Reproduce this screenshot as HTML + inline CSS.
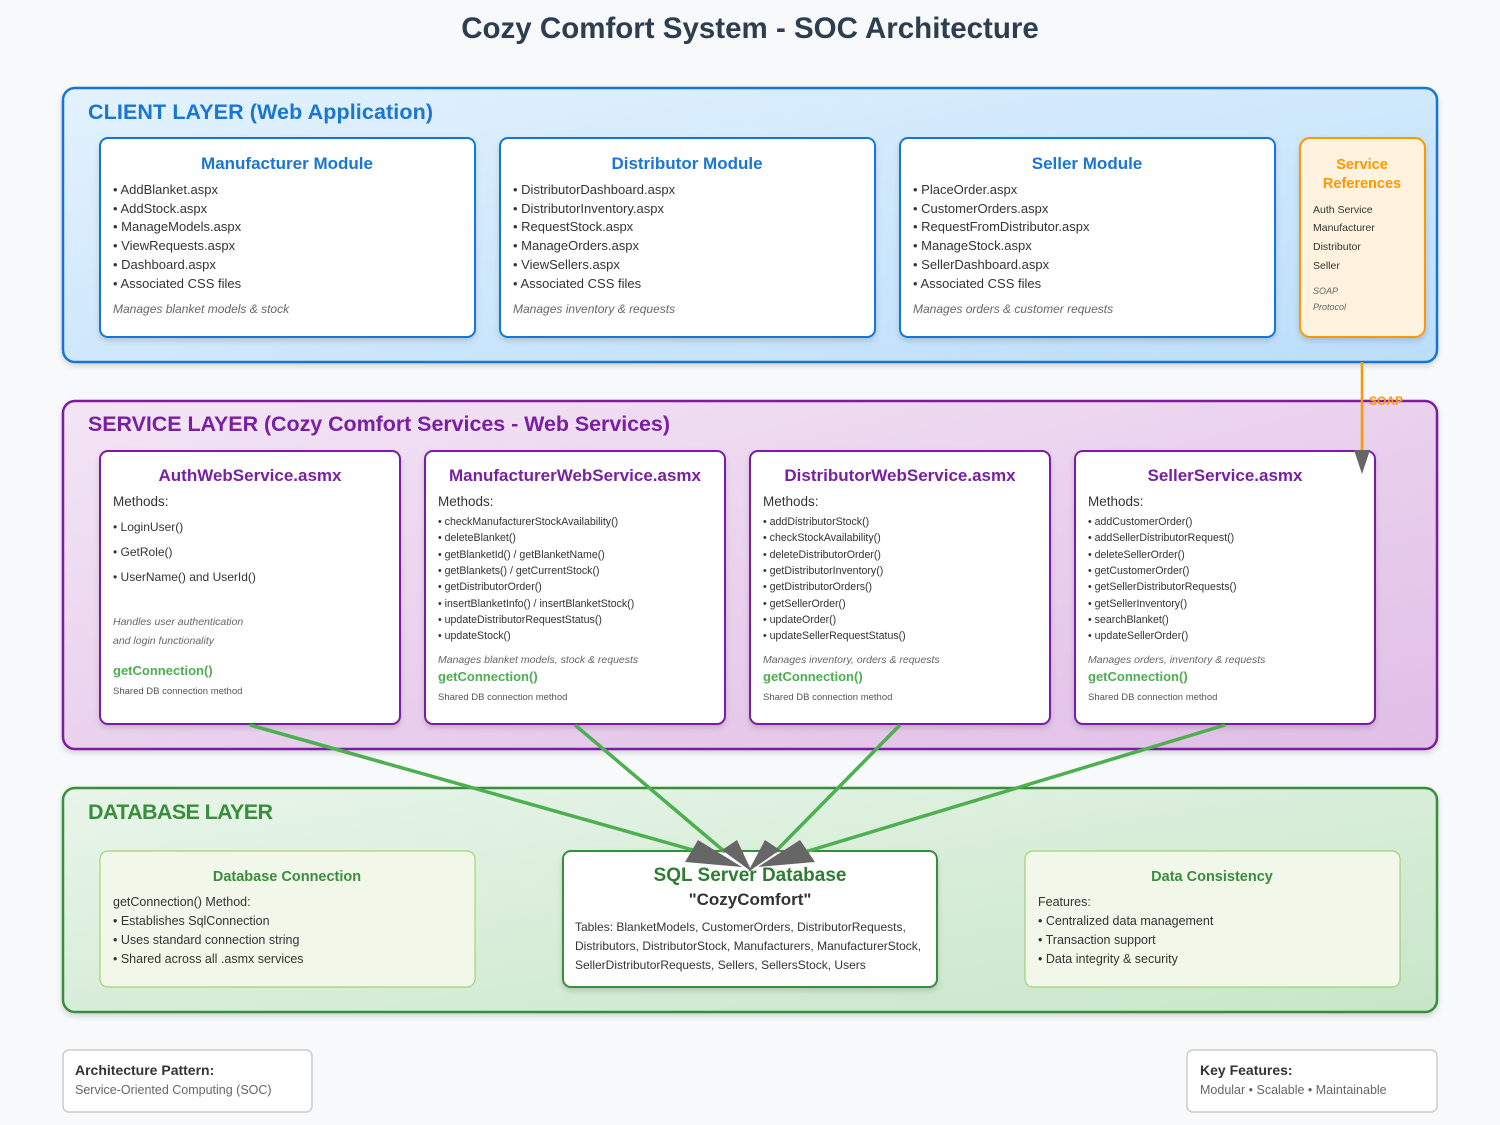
<!DOCTYPE html>
<html><head><meta charset="utf-8"><style>
html,body{margin:0;padding:0;background:#f8f9fa;}
svg{display:block;font-family:"Liberation Sans",sans-serif;}
</style></head><body>
<svg width="1500" height="1125" viewBox="0 0 1500 1125" xmlns="http://www.w3.org/2000/svg">
<defs>
<linearGradient id="gc" x1="0" y1="0" x2="1" y2="1"><stop offset="0" stop-color="#e3f2fd"/><stop offset="1" stop-color="#bbdefb"/></linearGradient>
<linearGradient id="gs" x1="0" y1="0" x2="1" y2="1"><stop offset="0" stop-color="#f3e5f5"/><stop offset="1" stop-color="#e1bee7"/></linearGradient>
<linearGradient id="gd" x1="0" y1="0" x2="1" y2="1"><stop offset="0" stop-color="#e8f5e9"/><stop offset="1" stop-color="#c8e6c9"/></linearGradient>
<filter id="sh" x="-10%" y="-10%" width="120%" height="130%"><feDropShadow dx="0" dy="3" stdDeviation="3" flood-color="#000" flood-opacity="0.15"/></filter>
</defs>
<rect width="1500" height="1125" fill="#f8f9fa"/>
<text x="750" y="38" text-anchor="middle" font-size="29.5" font-weight="bold" fill="#2c3e50">Cozy Comfort System - SOC Architecture</text>

<!-- CLIENT LAYER -->
<rect x="63" y="88" width="1374" height="274" rx="12" fill="url(#gc)" stroke="#1976d2" stroke-width="2.5" filter="url(#sh)"/>
<text x="88" y="119" font-size="21.5" font-weight="bold" fill="#1976d2" textLength="345">CLIENT LAYER (Web Application)</text>
<g font-size="13" fill="#333">
<rect x="100" y="138" width="375" height="199" rx="8" fill="#fff" stroke="#1976d2" stroke-width="2" filter="url(#sh)"/>
<text x="287" y="169" text-anchor="middle" font-size="17" font-weight="bold" fill="#1976d2">Manufacturer Module</text>
<text x="113" y="194">• AddBlanket.aspx</text><text x="113" y="213">• AddStock.aspx</text><text x="113" y="231">• ManageModels.aspx</text><text x="113" y="250">• ViewRequests.aspx</text><text x="113" y="269">• Dashboard.aspx</text><text x="113" y="288">• Associated CSS files</text>
<text x="113" y="313" font-size="12" font-style="italic" fill="#666">Manages blanket models &amp; stock</text>

<rect x="500" y="138" width="375" height="199" rx="8" fill="#fff" stroke="#1976d2" stroke-width="2" filter="url(#sh)"/>
<text x="687" y="169" text-anchor="middle" font-size="17" font-weight="bold" fill="#1976d2">Distributor Module</text>
<text x="513" y="194">• DistributorDashboard.aspx</text><text x="513" y="213">• DistributorInventory.aspx</text><text x="513" y="231">• RequestStock.aspx</text><text x="513" y="250">• ManageOrders.aspx</text><text x="513" y="269">• ViewSellers.aspx</text><text x="513" y="288">• Associated CSS files</text>
<text x="513" y="313" font-size="12" font-style="italic" fill="#666">Manages inventory &amp; requests</text>

<rect x="900" y="138" width="375" height="199" rx="8" fill="#fff" stroke="#1976d2" stroke-width="2" filter="url(#sh)"/>
<text x="1087" y="169" text-anchor="middle" font-size="17" font-weight="bold" fill="#1976d2">Seller Module</text>
<text x="913" y="194">• PlaceOrder.aspx</text><text x="913" y="213">• CustomerOrders.aspx</text><text x="913" y="231">• RequestFromDistributor.aspx</text><text x="913" y="250">• ManageStock.aspx</text><text x="913" y="269">• SellerDashboard.aspx</text><text x="913" y="288">• Associated CSS files</text>
<text x="913" y="313" font-size="12" font-style="italic" fill="#666">Manages orders &amp; customer requests</text>

<rect x="1300" y="138" width="125" height="199" rx="10" fill="#fff3e0" stroke="#ff9800" stroke-width="2" filter="url(#sh)"/>
<text x="1362" y="169" text-anchor="middle" font-size="14.5" font-weight="bold" fill="#ff9800">Service</text>
<text x="1362" y="188" text-anchor="middle" font-size="14.5" font-weight="bold" fill="#ff9800">References</text>
<g font-size="10.5"><text x="1313" y="213">Auth Service</text><text x="1313" y="231">Manufacturer</text><text x="1313" y="250">Distributor</text><text x="1313" y="269">Seller</text></g>
<text x="1313" y="294" font-size="9" font-style="italic" fill="#666">SOAP</text><text x="1313" y="310" font-size="9" font-style="italic" fill="#666">Protocol</text>
</g>

<!-- SERVICE LAYER -->
<rect x="63" y="401" width="1374" height="348" rx="12" fill="url(#gs)" stroke="#7b1fa2" stroke-width="2.5" filter="url(#sh)"/>
<text x="88" y="431" font-size="21.5" font-weight="bold" fill="#7b1fa2" textLength="582">SERVICE LAYER (Cozy Comfort Services - Web Services)</text>
<g fill="#333">
<rect x="100" y="451" width="300" height="273" rx="8" fill="#fff" stroke="#7b1fa2" stroke-width="2" filter="url(#sh)"/>
<rect x="425" y="451" width="300" height="273" rx="8" fill="#fff" stroke="#7b1fa2" stroke-width="2" filter="url(#sh)"/>
<rect x="750" y="451" width="300" height="273" rx="8" fill="#fff" stroke="#7b1fa2" stroke-width="2" filter="url(#sh)"/>
<rect x="1075" y="451" width="300" height="273" rx="8" fill="#fff" stroke="#7b1fa2" stroke-width="2" filter="url(#sh)"/>
<g font-size="17" font-weight="bold" fill="#7b1fa2" text-anchor="middle">
<text x="250" y="481">AuthWebService.asmx</text><text x="575" y="481">ManufacturerWebService.asmx</text><text x="900" y="481">DistributorWebService.asmx</text><text x="1225" y="481">SellerService.asmx</text>
</g>
<g font-size="13.5"><text x="113" y="506">Methods:</text><text x="438" y="506">Methods:</text><text x="763" y="506">Methods:</text><text x="1088" y="506">Methods:</text></g>
<g font-size="12"><text x="113" y="531">• LoginUser()</text><text x="113" y="556">• GetRole()</text><text x="113" y="581">• UserName() and UserId()</text></g>
<g font-size="10.5" font-style="italic" fill="#666"><text x="113" y="625">Handles user authentication</text><text x="113" y="644">and login functionality</text>
<text x="438" y="663">Manages blanket models, stock &amp; requests</text><text x="763" y="663">Manages inventory, orders &amp; requests</text><text x="1088" y="663">Manages orders, inventory &amp; requests</text></g>
<g font-size="10.6">
<text x="438" y="525">• checkManufacturerStockAvailability()</text><text x="438" y="541">• deleteBlanket()</text><text x="438" y="558">• getBlanketId() / getBlanketName()</text><text x="438" y="574">• getBlankets() / getCurrentStock()</text><text x="438" y="590">• getDistributorOrder()</text><text x="438" y="607">• insertBlanketInfo() / insertBlanketStock()</text><text x="438" y="623">• updateDistributorRequestStatus()</text><text x="438" y="639">• updateStock()</text>
<text x="763" y="525">• addDistributorStock()</text><text x="763" y="541">• checkStockAvailability()</text><text x="763" y="558">• deleteDistributorOrder()</text><text x="763" y="574">• getDistributorInventory()</text><text x="763" y="590">• getDistributorOrders()</text><text x="763" y="607">• getSellerOrder()</text><text x="763" y="623">• updateOrder()</text><text x="763" y="639">• updateSellerRequestStatus()</text>
<text x="1088" y="525">• addCustomerOrder()</text><text x="1088" y="541">• addSellerDistributorRequest()</text><text x="1088" y="558">• deleteSellerOrder()</text><text x="1088" y="574">• getCustomerOrder()</text><text x="1088" y="590">• getSellerDistributorRequests()</text><text x="1088" y="607">• getSellerInventory()</text><text x="1088" y="623">• searchBlanket()</text><text x="1088" y="639">• updateSellerOrder()</text>
</g>
<g font-size="13" font-weight="bold" fill="#4caf50"><text x="113" y="675">getConnection()</text><text x="438" y="681">getConnection()</text><text x="763" y="681">getConnection()</text><text x="1088" y="681">getConnection()</text></g>
<g font-size="9.5" fill="#555"><text x="113" y="694">Shared DB connection method</text><text x="438" y="700">Shared DB connection method</text><text x="763" y="700">Shared DB connection method</text><text x="1088" y="700">Shared DB connection method</text></g>
</g>

<!-- DATABASE LAYER -->
<rect x="63" y="788" width="1374" height="224" rx="12" fill="url(#gd)" stroke="#388e3c" stroke-width="2.5" filter="url(#sh)"/>
<text x="88" y="819" font-size="21.5" font-weight="bold" fill="#388e3c" textLength="185">DATABASE LAYER</text>
<g fill="#333" font-size="12.5">
<rect x="100" y="851" width="375" height="136" rx="8" fill="#f1f8e9" stroke="#8bc34a" stroke-opacity="0.7" stroke-width="1.2"/>
<text x="287" y="881" text-anchor="middle" font-size="14.5" font-weight="bold" fill="#388e3c">Database Connection</text>
<text x="113" y="906">getConnection() Method:</text><text x="113" y="925">• Establishes SqlConnection</text><text x="113" y="944">• Uses standard connection string</text><text x="113" y="963">• Shared across all .asmx services</text>
<rect x="1025" y="851" width="375" height="136" rx="8" fill="#f1f8e9" stroke="#8bc34a" stroke-opacity="0.7" stroke-width="1.2"/>
<text x="1212" y="881" text-anchor="middle" font-size="14.5" font-weight="bold" fill="#388e3c">Data Consistency</text>
<text x="1038" y="906">Features:</text><text x="1038" y="925">• Centralized data management</text><text x="1038" y="944">• Transaction support</text><text x="1038" y="963">• Data integrity &amp; security</text>
<rect x="563" y="851" width="374" height="136" rx="8" fill="#fff" stroke="#388e3c" stroke-width="2" filter="url(#sh)"/>
<text x="750" y="881" text-anchor="middle" font-size="19" font-weight="bold" fill="#2e7d32">SQL Server Database</text>
<text x="750" y="905" text-anchor="middle" font-size="17" font-weight="bold" fill="#333">"CozyComfort"</text>
<g font-size="12"><text x="575" y="931">Tables: BlanketModels, CustomerOrders, DistributorRequests,</text><text x="575" y="950">Distributors, DistributorStock, Manufacturers, ManufacturerStock,</text><text x="575" y="969">SellerDistributorRequests, Sellers, SellersStock, Users</text></g>
</g>

<!-- connectors -->
<g stroke="#4caf50" stroke-width="3.5" fill="none">
<line x1="250" y1="725" x2="700" y2="852"/>
<line x1="575" y1="725" x2="725" y2="852"/>
<line x1="900" y1="725" x2="775" y2="852"/>
<line x1="1225" y1="725" x2="805" y2="852"/>
</g>
<g fill="#666">
<polygon points="685,862 698,840 742,867"/>
<polygon points="722,850 737,840 752,872"/>
<polygon points="748,872 765,840 780,850"/>
<polygon points="758,867 800,840 815,862"/>
</g>
<line x1="1362" y1="362" x2="1362" y2="455" stroke="#ff9800" stroke-width="2.5"/>
<polygon points="1354,450 1370,450 1362,474" fill="#666"/>
<text x="1369" y="405" font-size="12" font-weight="bold" fill="#ff9800">SOAP</text>

<!-- footer -->
<rect x="63" y="1050" width="249" height="62" rx="6" fill="#fff" stroke="#ccc" stroke-width="1.5"/>
<text x="75" y="1075" font-size="14" font-weight="bold" fill="#333">Architecture Pattern:</text>
<text x="75" y="1094" font-size="12.5" fill="#666">Service-Oriented Computing (SOC)</text>
<rect x="1187" y="1050" width="250" height="62" rx="6" fill="#fff" stroke="#ccc" stroke-width="1.5"/>
<text x="1200" y="1075" font-size="14" font-weight="bold" fill="#333">Key Features:</text>
<text x="1200" y="1094" font-size="12.5" fill="#666">Modular • Scalable • Maintainable</text>
</svg>
</body></html>
